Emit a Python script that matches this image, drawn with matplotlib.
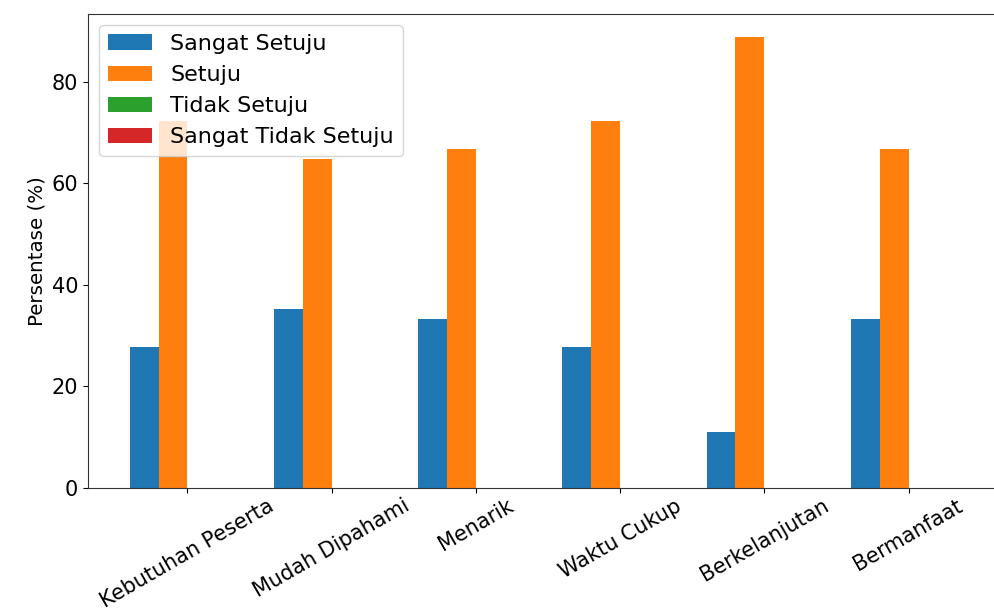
import matplotlib
matplotlib.use("Agg")
import matplotlib.pyplot as plt
import numpy as np

categories = ["Kebutuhan Peserta", "Mudah Dipahami", "Menarik", "Waktu Cukup", "Berkelanjutan", "Bermanfaat"]
sangat_setuju = [27.8, 35.3, 33.3, 27.8, 11.1, 33.3]
setuju = [72.2, 64.7, 66.7, 72.2, 88.9, 66.7]
tidak_setuju = [0, 0, 0, 0, 0, 0]
sangat_tidak_setuju = [0, 0, 0, 0, 0, 0]
series_names = ["Sangat Setuju", "Setuju", "Tidak Setuju", "Sangat Tidak Setuju"]
y_label = "Persentase (%)"

plt.rcParams["font.family"] = ["DejaVu Sans"]
plt.rcParams["font.size"] = 15

fig = plt.figure(figsize=(9.95, 6.14), dpi=100)
ax = fig.add_axes([88 / 995, 126 / 614, (1008 - 88) / 995, (600 - 126) / 614])

x = np.arange(len(categories))
w = 0.2
colors = ["#1f77b4", "#ff7f0e", "#2ca02c", "#d62728"]
for i, (vals, name) in enumerate(zip([sangat_setuju, setuju, tidak_setuju, sangat_tidak_setuju], series_names)):
    ax.bar(x + (i - 1.5) * w, vals, w, label=name, color=colors[i])

ax.set_xticks(x)
ax.set_xticklabels(categories, rotation=30, ha="center", fontsize=15)
ax.tick_params(axis="x", pad=2)
ax.tick_params(axis="y", labelsize=15)
ax.set_ylabel(y_label, fontsize=14.3)
ax.legend(loc="upper left", fontsize=16)
for s in ax.spines.values():
    s.set_color("#333333")

fig.savefig("out.png", dpi=100)
